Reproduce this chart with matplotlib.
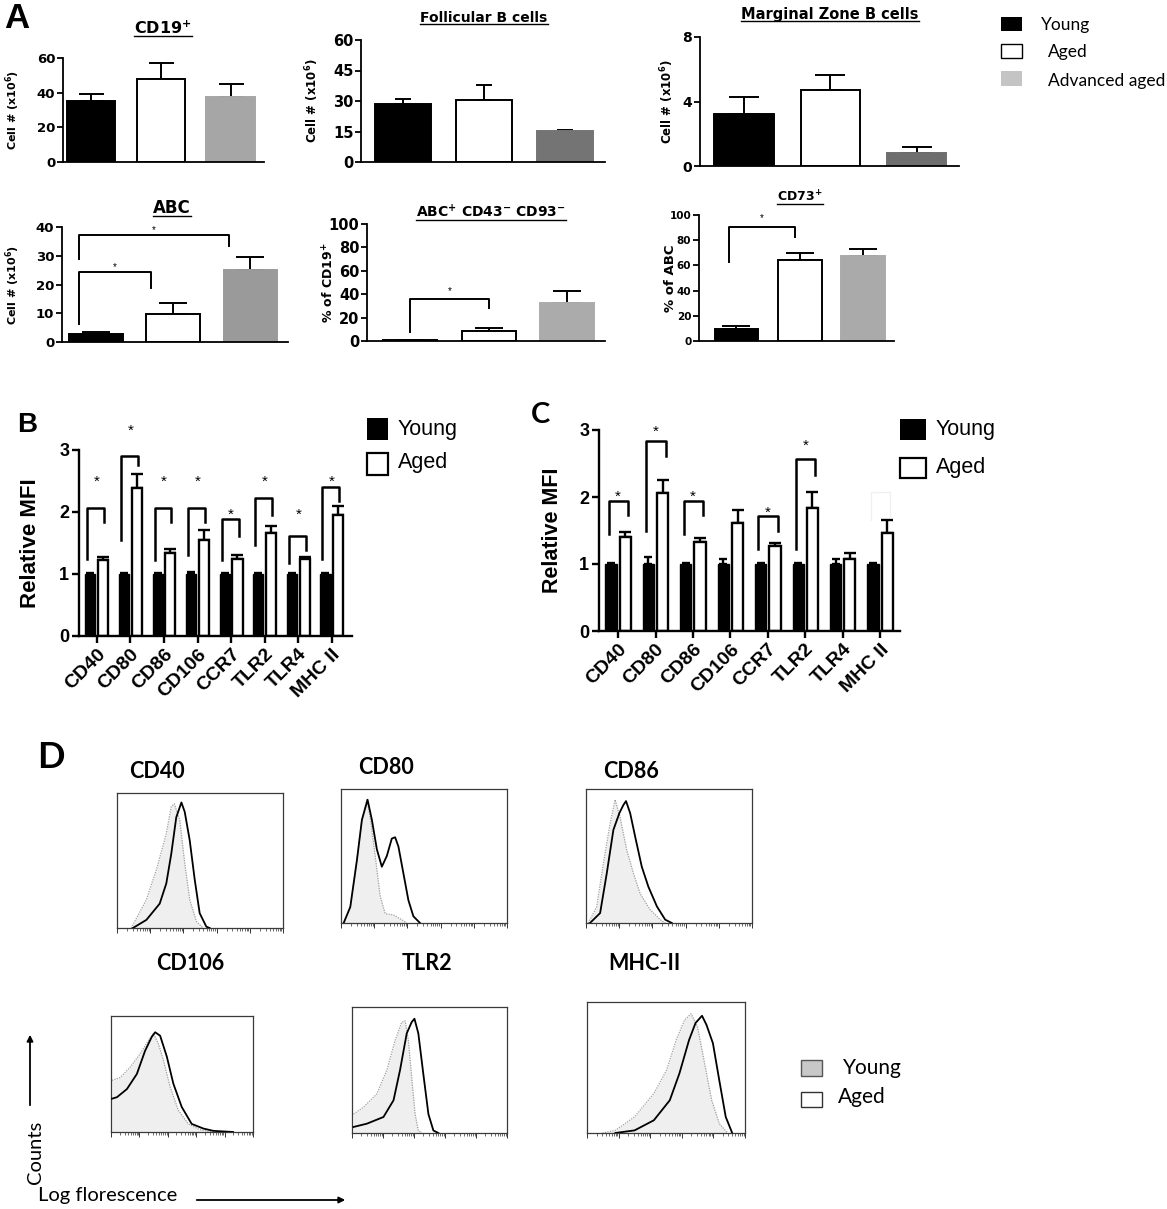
import matplotlib
matplotlib.use('Agg')
import matplotlib.pyplot as plt
from matplotlib.patches import Rectangle, FancyArrowPatch
from matplotlib.lines import Line2D
import numpy as np

W, H = 1167, 1209

plt.rcParams['font.family'] = ['Liberation Sans', 'DejaVu Sans']
plt.rcParams['mathtext.fontset'] = 'dejavusans'
plt.rcParams['mathtext.default'] = 'bf'

# ---------------- panel A data (mean, sem) : Young, Aged, Advanced aged
groups_a = ['Young', 'Aged', 'Advanced aged']
cd19_mean = [35.4, 47.9, 37.7]
cd19_sem = [3.6, 9.4, 7.1]
foll_mean = [28.4, 30.5, 15.2]
foll_sem = [2.7, 7.4, 0.5]
mz_mean = [3.2, 4.7, 0.83]
mz_sem = [1.1, 0.95, 0.37]
abc_mean = [2.7, 9.9, 25.2]
abc_sem = [0.8, 3.5, 4.4]
abcdn_mean = [0.9, 8.5, 32.7]
abcdn_sem = [0.3, 2.5, 10.0]
cd73_mean = [9.8, 64.3, 67.5]
cd73_sem = [2.1, 5.3, 5.3]

# brackets: (i, j, left leg bottom, top, right leg bottom, star y)
abc_sig = [(0, 2, 29.0, 37.1, 33.3, 39.7), (0, 1, 6.2, 24.3, 18.9, 26.7)]
abcdn_sig = [(0, 1, 7.7, 36.0, 28.0, 45.0)]
cd73_sig = [(0, 1, 63.0, 90.2, 82.3, 99.0)]

# ---------------- panels B and C data
markers = ['CD40', 'CD80', 'CD86', 'CD106', 'CCR7', 'TLR2', 'TLR4', 'MHC II']
b_young = [1.0, 1.0, 1.0, 1.0, 1.0, 1.0, 1.0, 1.0]
b_young_sem = [0.02, 0.02, 0.02, 0.03, 0.02, 0.02, 0.02, 0.02]
b_aged = [1.23, 2.38, 1.34, 1.55, 1.25, 1.66, 1.24, 1.95]
b_aged_sem = [0.05, 0.24, 0.07, 0.16, 0.05, 0.12, 0.04, 0.14]
# (index, left leg bottom, top, right leg bottom, star y)
b_sig = [(0, 1.25, 2.06, 1.84, 2.57), (1, 1.55, 2.90, 2.76, 3.38),
         (2, 1.23, 2.06, 1.84, 2.57), (3, 1.31, 2.06, 1.84, 2.57),
         (4, 1.23, 1.88, 1.61, 2.03), (5, 1.46, 2.22, 1.95, 2.57),
         (6, 1.17, 1.61, 1.39, 2.03), (7, 1.25, 2.40, 2.17, 2.57)]

c_young = [1.0, 1.0, 1.0, 1.0, 1.0, 1.0, 1.0, 1.0]
c_young_sem = [0.02, 0.11, 0.02, 0.07, 0.02, 0.02, 0.08, 0.02]
c_aged = [1.41, 2.06, 1.33, 1.61, 1.27, 1.84, 1.08, 1.46]
c_aged_sem = [0.07, 0.20, 0.06, 0.20, 0.05, 0.24, 0.09, 0.19]
c_sig = [(0, 1.45, 1.94, 1.73, 2.08), (1, 1.50, 2.84, 2.61, 3.05),
         (2, 1.45, 1.94, 1.73, 2.08), (4, 1.23, 1.72, 1.49, 1.83),
         (5, 1.23, 2.56, 2.33, 2.84)]
c_faint = [(7, 1.65, 2.08, 1.70, None)]

# ---------------- panel D histograms (x: % of log axis, y: % of box height)
cd40_young = ([8.6, 17.7, 23.7, 29.7, 32.7, 34.5, 37.8, 40.8, 43.8, 47.8, 51.8],
              [0, 21, 43, 70, 90, 92, 80, 48, 21, 5, 0])
cd40_aged = ([9.6, 17.7, 25.7, 29.7, 32.7, 35.7, 38.8, 40.8, 43.8, 46.8, 49.8, 53.8, 55.8],
             [0, 6, 18, 33, 55, 82, 93, 86, 65, 36, 11, 1, 0])
cd80_young = ([1.6, 5.6, 9.6, 12.6, 15.6, 17.6, 20.6, 23.6, 26.6, 31.6, 36.6, 39.6],
              [0, 12, 47, 77, 92, 79, 50, 20, 7, 6, 2.5, 0])
cd80_aged = ([1.6, 5.6, 9.6, 12.6, 16.0, 18.6, 21.6, 24.6, 27.6, 30.6, 32.6, 34.6, 37.6, 40.6, 43.6, 47.6],
             [0, 12, 47, 77, 92, 77, 55, 42, 50, 63, 64, 57, 37, 17, 5, 0])
cd86_young = ([1.4, 6.4, 10.5, 14.5, 17.5, 20.5, 24.5, 28.6, 32.6, 38.6, 44.7, 47.7],
              [0, 12, 44.7, 74, 92, 79, 54.6, 37, 22, 10, 2.5, 0])
cd86_aged = ([2.4, 8.5, 12.5, 16.5, 20.1, 22.5, 24.1, 26.6, 29.6, 33.6, 37.6, 42.7, 47.7, 51.7],
             [0, 7.4, 37, 69.5, 82, 88, 91, 82, 64.5, 42, 27, 12.4, 2.5, 0])
cd106_young = ([0.7, 6.5, 13.6, 20.6, 26.4, 29.9, 33.4, 36.9, 41.6, 47.4, 54.4, 62.6, 72.0],
               [44.5, 47, 56, 67.5, 79, 85, 76, 62, 39, 18.7, 7, 2, 0])
cd106_aged = ([0.7, 4.2, 11.2, 18.2, 24.0, 28.7, 31.1, 34.6, 39.3, 43.9, 49.8, 56.8, 65.0, 72.0, 86.0],
              [28.7, 30, 37, 50, 70, 82, 86, 83, 65, 41.7, 21.6, 7, 3, 1, 0])
tlr2_young = ([1.0, 7.5, 16.0, 22.5, 27.8, 32.1, 34.3, 36.4, 38.5, 40.7, 42.8, 45.0],
              [15, 20.6, 31, 50, 73.5, 88, 89, 73.5, 44, 15, 2, 0])
tlr2_aged = ([1.0, 9.6, 20.3, 26.8, 31.0, 35.3, 38.5, 40.3, 42.8, 46.0, 49.3, 52.5, 55.7],
             [4.8, 7.4, 12.7, 26, 50, 79, 88, 90.7, 79, 47, 15, 2, 0])
mhc_young = ([9.8, 17.9, 30.1, 42.3, 50.4, 56.5, 61.8, 65.9, 69.9, 74.0, 78.9, 83.7, 89.0],
             [0, 2, 12.3, 30.2, 48.1, 71.1, 86.4, 91, 81.3, 55.8, 25.1, 7.2, 0])
mhc_aged = ([17.9, 30.1, 42.3, 52.4, 58.5, 64.6, 68.7, 72.8, 75.6, 79.7, 83.7, 87.8, 91.9],
            [0, 2, 9.7, 25, 45.5, 71, 84, 89.5, 82.6, 68.5, 40.4, 12.3, 0])

fig = plt.figure(figsize=(W / 100, H / 100), dpi=100)


def ax_px(l, t, r, b):
    return fig.add_axes([l / W, 1 - b / H, (r - l) / W, (b - t) / H])


def ftext(x, y, s, **kw):
    return fig.text(x / W, 1 - y / H, s, **kw)


def frect(l, t, r, b, fc, ec='none', lw=1.0):
    fig.add_artist(Rectangle((l / W, 1 - b / H), (r - l) / W, (b - t) / H,
                             transform=fig.transFigure, facecolor=fc,
                             edgecolor=ec, linewidth=lw))


def farrow(x0, y0, x1, y1):
    fig.add_artist(FancyArrowPatch((x0 / W, 1 - y0 / H), (x1 / W, 1 - y1 / H),
                                   transform=fig.transFigure, arrowstyle='-|>',
                                   mutation_scale=9, lw=1.3, color='black'))


underlined = []


def panel_a(rect, means, sems, gray, xlim, ylim, yticks, ylabel, ylabel_x, ylabel_size,
            title, title_xy, title_size, tick_size=9.5, capsize=9, sig=(), leg_dx=(0, 0)):
    ax = ax_px(*rect)
    x = np.arange(len(means))
    ax.bar(x, means, width=0.69, color=['black', 'white', gray],
           edgecolor=['black', 'black', gray], linewidth=1.4, zorder=2)
    ax.errorbar(x, means, yerr=[np.zeros(len(means)), sems], fmt='none', ecolor='black',
                elinewidth=1.4, capsize=capsize, capthick=1.4, zorder=1)
    ax.set_xlim(*xlim)
    ax.set_ylim(*ylim)
    ax.set_yticks(yticks)
    ax.set_xticks([])
    for s in ['top', 'right']:
        ax.spines[s].set_visible(False)
    for s in ['left', 'bottom']:
        ax.spines[s].set_linewidth(1.3)
    ax.tick_params(axis='y', direction='out', length=4, width=1.3, labelsize=tick_size, pad=1.5)
    for lbl in ax.get_yticklabels():
        lbl.set_fontfamily('DejaVu Sans')
        lbl.set_fontweight('bold')
    cy = (rect[1] + rect[3]) / 2
    ftext(ylabel_x, cy, ylabel, rotation=90, ha='center', va='center',
          family='DejaVu Sans', weight='bold', size=ylabel_size)
    t = ftext(title_xy[0], title_xy[1], title, ha='center', va='center',
              family='DejaVu Sans', weight='bold', size=title_size)
    underlined.append(t)
    for i, j, lb, top, rb, sy in sig:
        xa, xb = i + leg_dx[0], j + leg_dx[1]
        ax.plot([xa, xa, xb, xb], [lb, top, top, rb], color='black', lw=1.4, clip_on=False)
        ax.annotate('*', ((xa + xb) / 2, sy), xytext=(0, -3.8), textcoords='offset points',
                    ha='center', va='baseline', fontsize=7, annotation_clip=False)
    return ax


# ---- A
panel_a((63, 58, 264, 162), cd19_mean, cd19_sem, '#a6a6a6', (-0.4, 2.48), (0, 60),
        [0, 20, 40, 60], 'Cell # (x10$^{6}$)', 13, 8, 'CD19$^{+}$', (163, 28), 11.5)
panel_a((361, 40, 605, 162), foll_mean, foll_sem, '#747474', (-0.52, 2.49), (0, 60),
        [0, 15, 30, 45, 60], 'Cell # (x10$^{6}$)', 312, 8.5, 'Follicular B cells', (484, 18), 10,
        tick_size=10.5, capsize=6)
panel_a((700, 37, 959, 166), mz_mean, mz_sem, '#6e6e6e', (-0.51, 2.49), (0, 8),
        [0, 4, 8], 'Cell # (x10$^{6}$)', 667, 8.5, 'Marginal Zone B cells', (830, 14), 10.5,
        tick_size=10, capsize=11)
panel_a((62, 227, 288, 342), abc_mean, abc_sem, '#9a9a9a', (-0.44, 2.49), (0, 40),
        [0, 10, 20, 30, 40], 'Cell # (x10$^{6}$)', 13, 8, 'ABC', (172, 208), 12,
        capsize=10, sig=abc_sig, leg_dx=(-0.22, -0.28))
panel_a((367, 224, 605, 341), abcdn_mean, abcdn_sem, '#ababab', (-0.55, 2.48), (0, 100),
        [0, 20, 40, 60, 80, 100], '% of CD19$^{+}$', 329, 9, 'ABC$^{+}$ CD43$^{-}$ CD93$^{-}$',
        (491, 212), 10, tick_size=10.5, capsize=10, sig=abcdn_sig)
panel_a((699, 215, 894, 341), cd73_mean, cd73_sem, '#aaaaaa', (-0.59, 2.49), (0, 100),
        [0, 20, 40, 60, 80, 100], '% of ABC', 670, 9.5, 'CD73$^{+}$', (800, 197), 9,
        tick_size=7.5, capsize=10, sig=cd73_sig, leg_dx=(-0.12, -0.07))

# legend A
frect(1001, 17, 1022, 31, 'black')
frect(1001, 44, 1022, 58, 'white', 'black', 1.0)
frect(1001, 71, 1022, 86, '#c4c4c4')
ftext(1041, 25, groups_a[0], ha='left', va='center', family='Lato', size=12.5)
ftext(1048, 52, groups_a[1], ha='left', va='center', family='Lato', size=12.5)
ftext(1048, 81, groups_a[2], ha='left', va='center', family='Lato', size=12.5)


# ---- B and C
def panel_mfi(rect, xlim, young, young_sem, aged, aged_sem, sig, leg_dx, ylabel_x, ylabel_size,
              faint=()):
    ax = ax_px(*rect)
    x = np.arange(len(markers))
    ax.bar(x - 0.19, young, width=0.3, color='black', edgecolor='black', linewidth=1.0, zorder=2)
    ax.bar(x + 0.19, aged, width=0.3, color='white', edgecolor='black', linewidth=1.7, zorder=2)
    ax.errorbar(x - 0.19, young, yerr=[np.zeros(len(x)), young_sem], fmt='none', ecolor='black',
                elinewidth=1.7, capsize=3, capthick=1.7, zorder=1)
    ax.errorbar(x + 0.19, aged, yerr=[np.zeros(len(x)), aged_sem], fmt='none', ecolor='black',
                elinewidth=1.7, capsize=4, capthick=1.7, zorder=1)
    for i, lb, top, rb, sy in sig:
        xa, xb = i + leg_dx[0], i + leg_dx[1]
        ax.plot([xa, xa, xb, xb], [lb, top, top, rb], color='black', lw=1.8, clip_on=False)
        ax.annotate('*', (i, sy), xytext=(0, -6.3), textcoords='offset points',
                    ha='center', va='baseline', fontsize=11, annotation_clip=False)
    for i, lb, top, rb, sy in faint:
        xa, xb = i + leg_dx[0], i + leg_dx[1]
        ax.plot([xa, xa, xb, xb], [lb, top, top, rb], color='#f0f0f0', lw=1.0, clip_on=False)
    ax.set_xlim(*xlim)
    ax.set_ylim(0, 3)
    ax.set_yticks([0, 1, 2, 3])
    ax.set_xticks(x)
    ax.set_xticklabels(markers, rotation=45, ha='right', va='top', rotation_mode='anchor',
                       fontsize=14, fontweight='bold')
    for s in ['top', 'right']:
        ax.spines[s].set_visible(False)
    for s in ['left', 'bottom']:
        ax.spines[s].set_linewidth(1.7)
    ax.tick_params(axis='both', direction='out', length=5, width=1.7, pad=2)
    ax.tick_params(axis='y', labelsize=13)
    for lbl in ax.get_yticklabels():
        lbl.set_fontweight('bold')
    cy = (rect[1] + rect[3]) / 2
    ftext(ylabel_x, cy, 'Relative MFI', rotation=90, ha='center', va='center',
          weight='bold', size=ylabel_size)
    return ax


panel_mfi((79, 450, 352, 636), (-0.53, 7.6), b_young, b_young_sem, b_aged, b_aged_sem,
          b_sig, (-0.28, 0.22), 31, 16)
panel_mfi((599, 430, 900, 631), (-0.51, 7.53), c_young, c_young_sem, c_aged, c_aged_sem,
          c_sig, (-0.25, 0.27), 552, 15.5, faint=c_faint)

frect(367, 418, 388, 440, 'black')
frect(367, 453, 388, 475, 'white', 'black', 1.6)
ftext(398, 429, 'Young', ha='left', va='center', size=15.5)
ftext(398, 463, 'Aged', ha='left', va='center', size=15.5)

frect(900, 419, 926, 440, 'black')
frect(900, 458, 926, 478, 'white', 'black', 1.6)
ftext(936, 430, 'Young', ha='left', va='center', size=15.5)
ftext(936, 468, 'Aged', ha='left', va='center', size=15.5)


# ---- D
def panel_hist(rect, young, aged, title, title_xy):
    ax = ax_px(*rect)
    ax.fill_between(young[0], young[1], 0, color='#efefef', lw=0, zorder=1)
    ax.plot(young[0], young[1], color='#a0a0a0', lw=0.9, ls=(0, (1, 1)), zorder=2)
    ax.plot(aged[0], aged[1], color='black', lw=1.3, zorder=3)
    ax.set_xlim(0, 100)
    ax.set_ylim(0, 100)
    ax.set_yticks([])
    ax.set_xticks([0, 20, 40, 60, 80, 100])
    ax.set_xticks([d * 20 + 20 * np.log10(k) for d in range(5) for k in range(2, 10)], minor=True)
    ax.set_xticklabels([])
    ax.tick_params(axis='x', which='major', direction='out', length=3.5, width=0.7, color='#333333')
    ax.tick_params(axis='x', which='minor', direction='out', length=2, width=0.5, color='#333333')
    for s in ax.spines.values():
        s.set_linewidth(0.9)
        s.set_color('#3a3a3a')
    ftext(title_xy[0], title_xy[1], title, ha='center', va='center', family='Lato',
          weight='bold', size=15.5)
    return ax


panel_hist((117, 793, 283, 928), cd40_young, cd40_aged, 'CD40', (157, 772))
panel_hist((341, 789, 507, 923), cd80_young, cd80_aged, 'CD80', (386, 768))
panel_hist((586, 789, 752, 923), cd86_young, cd86_aged, 'CD86', (631, 772))
panel_hist((111, 1016, 253, 1132), cd106_young, cd106_aged, 'CD106', (190, 963))
panel_hist((352, 1007, 507, 1133), tlr2_young, tlr2_aged, 'TLR2', (427, 963))
panel_hist((587, 1002, 745, 1133), mhc_young, mhc_aged, 'MHC-II', (644, 963))

frect(801, 1060, 822, 1076, '#c8c8c8', '#555555', 1.0)
frect(801, 1092, 822, 1107, 'white', '#333333', 1.0)
ftext(843, 1068, 'Young', ha='left', va='center', family='Lato', size=15)
ftext(838, 1097, 'Aged', ha='left', va='center', family='Lato', size=15)

farrow(30, 1108, 30, 1032)
ftext(35, 1152, 'Counts', rotation=90, ha='center', va='center', family='Lato', size=14.5)
ftext(38, 1195, 'Log florescence', ha='left', va='center', family='Lato', size=14.5)
farrow(194, 1200, 348, 1200)

# panel letters
ftext(4, 28, 'A', ha='left', va='baseline', weight='bold', size=25)
ftext(17, 432, 'B', ha='left', va='baseline', weight='bold', size=20)
ftext(531, 423, 'C', ha='left', va='baseline', family='Lato', weight='bold', size=21)
ftext(37, 768, 'D', ha='left', va='baseline', family='Lato', weight='bold', size=26)

# underline the panel A titles
fig.canvas.draw()
renderer = fig.canvas.get_renderer()
for t in underlined:
    bb = t.get_window_extent(renderer)
    yl = (bb.y0 + 1) / H
    fig.add_artist(Line2D([bb.x0 / W, bb.x1 / W], [yl, yl], transform=fig.transFigure,
                          color='black', lw=1.0))

fig.savefig('out.png', dpi=100)
